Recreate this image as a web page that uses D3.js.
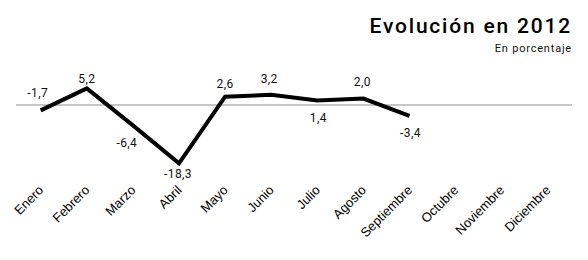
<!DOCTYPE html>
<html>
<head>
<meta charset="utf-8">
<script src="https://cdn.jsdelivr.net/npm/d3@7"></script>
<style>
  body { margin: 0; background: #fff; }
</style>
</head>
<body>
<div id="chart"></div>
<script>
// months shown on the axis, values only for the first nine
var months = ['Enero', 'Febrero', 'Marzo', 'Abril', 'Mayo', 'Junio', 'Julio',
  'Agosto', 'Septiembre', 'Octubre', 'Noviembre', 'Diciembre'];
var values = [-1.7, 5.2, -6.4, -18.3, 2.6, 3.2, 1.4, 2.0, -3.4];
var valueLabels = ['-1,7', '5,2', '-6,4', '-18,3', '2,6', '3,2', '1,4', '2,0', '-3,4'];

// label placement (style only): offset of each value label from its point
var labelDx = [-3, 0, -6, -1, 0, -2, 1, -1, 1];
var labelDy = [-13, -5, 22, 15, -9, -12, 21, -13, 21];

var width = 588, height = 260;

var svg = d3.select('#chart')
  .append('svg')
  .attr('width', width)
  .attr('height', height);

// x: one point per month
var x = d3.scalePoint()
  .domain(months)
  .range([40.7, 547.8]);

// y: zero sits at 105, ~3.19px per point
var y = d3.scaleLinear()
  .domain([-20, 10])
  .range([168.8, 73.1]);

// zero line
svg.append('line')
  .attr('x1', 16)
  .attr('x2', 572)
  .attr('y1', y(0))
  .attr('y2', y(0))
  .style('stroke', '#8c8c8c')
  .style('stroke-width', 1);

// the line
var line = d3.line()
  .x(function(d, i) { return x(months[i]); })
  .y(function(d) { return y(d); });

svg.append('path')
  .datum(values)
  .attr('d', line)
  .style('fill', 'none')
  .style('stroke', '#000')
  .style('stroke-width', 4)
  .style('stroke-linejoin', 'miter');

// value labels
svg.selectAll('.vlabel')
  .data(values)
  .enter()
  .append('text')
  .attr('class', 'vlabel')
  .attr('x', function(d, i) { return x(months[i]) + labelDx[i]; })
  .attr('y', function(d, i) { return y(d) + labelDy[i]; })
  .attr('text-anchor', 'middle')
  .style('font-family', 'Roboto, sans-serif')
  .style('font-size', '12px')
  .style('letter-spacing', '0.4px')
  .style('fill', '#111')
  .text(function(d, i) { return valueLabels[i]; });

// month axis, rotated labels, no ticks or domain
var axis = svg.append('g')
  .attr('transform', 'translate(0,191)')
  .call(d3.axisBottom(x).tickSize(0).tickPadding(0));
axis.select('.domain').remove();
axis.selectAll('text')
  .attr('y', 0)
  .attr('dy', 0)
  .attr('transform', 'translate(3,0) rotate(-45)')
  .attr('text-anchor', 'end')
  .style('font-family', '"Liberation Sans", Arial, sans-serif')
  .style('font-size', '13px')
  .style('fill', '#000');

// title block
svg.append('text')
  .attr('x', 572)
  .attr('y', 33)
  .attr('text-anchor', 'end')
  .style('font-family', 'Roboto, sans-serif')
  .style('font-weight', 500)
  .style('font-size', '21px')
  .style('letter-spacing', '1.8px')
  .style('fill', '#000')
  .text('Evolución en 2012');

svg.append('text')
  .attr('x', 572)
  .attr('y', 52)
  .attr('text-anchor', 'end')
  .style('font-family', 'Roboto, sans-serif')
  .style('font-size', '11px')
  .style('letter-spacing', '0.8px')
  .style('fill', '#111')
  .text('En porcentaje');
</script>
</body>
</html>
